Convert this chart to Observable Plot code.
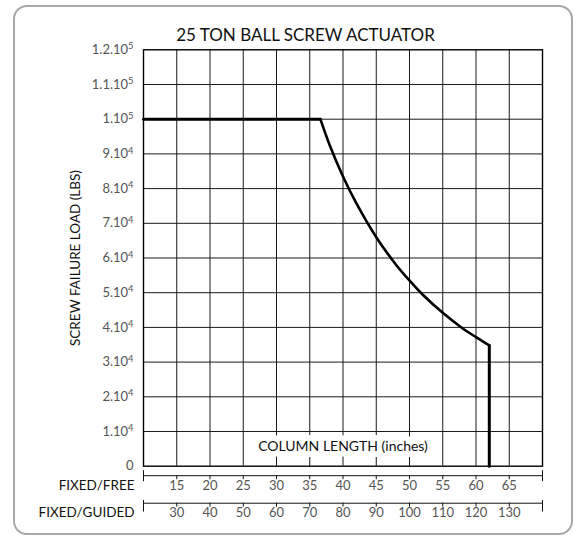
<!DOCTYPE html>
<html>
<head>
<meta charset="utf-8">
<script src="https://cdn.jsdelivr.net/npm/d3@7"></script>
<script src="https://cdn.jsdelivr.net/npm/@observablehq/plot@0.6"></script>
<style>
  html, body { margin: 0; padding: 0; background: #fff; }
  #wrap { position: relative; width: 574px; height: 535px; overflow: hidden; }
  #box { position: absolute; left: 13px; top: 5px; width: 556px; height: 526px;
         border: 2px solid #a8a8a8; border-radius: 14px; pointer-events: none; }
  svg { font-family: Lato, "Open Sans", sans-serif; }
</style>
</head>
<body>
<div id="wrap"><div id="box"></div></div>
<script>
const title = "25 TON BALL SCREW ACTUATOR";
const yLabel = "SCREW FAILURE LOAD (LBS)";
const xLabel = "COLUMN LENGTH (inches)";
const rowLabels = ["FIXED/FREE", "FIXED/GUIDED"];

const xDomain = [10, 70];
const yDomain = [0, 120000];

// x grid / FIXED/FREE column lengths and matching FIXED/GUIDED lengths
const fixedFree = [15, 20, 25, 30, 35, 40, 45, 50, 55, 60, 65];
const fixedGuided = [30, 40, 50, 60, 70, 80, 90, 100, 110, 120, 130];

const yTicks = [0, 10000, 20000, 30000, 40000, 50000, 60000, 70000, 80000, 90000, 100000, 110000, 120000];
const yTickLabels = ["0", "1.10⁴", "2.10⁴", "3.10⁴", "4.10⁴", "5.10⁴", "6.10⁴", "7.10⁴", "8.10⁴", "9.10⁴", "1.10⁵", "1.1.10⁵", "1.2.10⁵"];

// Failure load curve (FIXED/FREE length, lbs)
const flatLength = [10, 36.6];
const flatLoad = [100000, 100000];
const curveLength = [36.6, 38, 40, 42, 45, 48, 50, 52, 55, 58, 60, 62];
const curveLoad = [100000, 92500, 83500, 75800, 66000, 58000, 53500, 49400, 44200, 39700, 37200, 34800];
const dropLength = [62, 62];
const dropLoad = [34800, 0];

const toPts = (xs, ys) => xs.map((x, i) => ({x, y: ys[i]}));
const rows = fixedFree.map((f, i) => ({free: f, guided: fixedGuided[i]}));
const yRows = yTicks.map((v, i) => ({v, label: yTickLabels[i]}));

const blank = () => "";

const chart = Plot.plot({
  width: 574,
  height: 535,
  marginLeft: 143,
  marginRight: 32,
  marginTop: 49.3,
  marginBottom: 69.3,
  style: {background: "transparent", fontFamily: "Lato, 'Open Sans', sans-serif"},
  x: {domain: xDomain},
  y: {domain: yDomain, axis: null},
  marks: [
    Plot.ruleX(fixedFree, {stroke: "#1a1a1a", strokeWidth: 1}),
    Plot.ruleY(yTicks.slice(1, -1), {stroke: "#1a1a1a", strokeWidth: 1}),
    Plot.frame({stroke: "#000", strokeWidth: 1.4}),
    Plot.text([xLabel], {frameAnchor: "bottom", dy: -15.5, fontSize: 14, fill: "#111",
      stroke: "white", strokeWidth: 12, strokeLinejoin: "round", paintOrder: "stroke"}),
    Plot.line(toPts(flatLength, flatLoad), {x: "x", y: "y", stroke: "#000", strokeWidth: 3}),
    Plot.line(toPts(curveLength, curveLoad), {x: "x", y: "y", stroke: "#000", strokeWidth: 2.6, curve: "catmull-rom"}),
    Plot.line(toPts(dropLength, dropLoad), {x: "x", y: "y", stroke: "#000", strokeWidth: 3}),
    // y tick labels
    Plot.text(yRows, {y: "v", text: "label", frameAnchor: "left", textAnchor: "end", dx: -10, fontSize: 13, fill: "#555", className: "ytick"}),
    // bottom axis rows
    Plot.ruleY([0], {dy: 9.5, stroke: "#111"}),
    Plot.ruleY([0], {dy: 37, stroke: "#111"}),
    Plot.axisX({ticks: fixedFree, tickSize: 4, tickFormat: blank, dy: 9.5, stroke: "#111"}),
    Plot.axisX({ticks: fixedFree, tickSize: 4, tickFormat: blank, dy: 37, stroke: "#111"}),
    Plot.axisX({ticks: xDomain, tickSize: 11, tickFormat: blank, dy: 4.5, stroke: "#111"}),
    Plot.axisX({ticks: xDomain, tickSize: 11.5, tickFormat: blank, dy: 34.3, stroke: "#111"}),
    Plot.text(rows, {x: "free", text: d => String(d.free), frameAnchor: "bottom", dy: 23.6, fontSize: 13, fill: "#555"}),
    Plot.text(rows, {x: "free", text: d => String(d.guided), frameAnchor: "bottom", dy: 50.3, fontSize: 13, fill: "#555"}),
    Plot.text([rowLabels[0]], {frameAnchor: "bottom-left", textAnchor: "end", dx: -9, dy: 23.6, fontSize: 13.5, fill: "#111"}),
    Plot.text([rowLabels[1]], {frameAnchor: "bottom-left", textAnchor: "end", dx: -9, dy: 50.3, fontSize: 13.5, fill: "#111"}),
    // titles
    Plot.text([title], {frameAnchor: "top", textAnchor: "middle", dx: -37.5, dy: -20.5, fontSize: 17, fill: "#111"}),
    Plot.text([yLabel], {frameAnchor: "left", textAnchor: "middle", rotate: -90, dx: -68, fontSize: 13.5, fill: "#111"})
  ]
});

// render the exponent characters as raised, larger superscripts
const supMap = {"⁴": "4", "⁵": "5"};
d3.select(chart).selectAll("text").each(function() {
  const t = this.textContent;
  const m = t.match(/^(.*?)([⁴⁵]+)$/);
  if (!m) return;
  const sel = d3.select(this);
  sel.selectAll("*").remove();
  this.textContent = "";
  sel.append("tspan").text(m[1]);
  sel.append("tspan").attr("dy", "-0.48em").attr("font-size", "72%")
    .text(m[2].split("").map(c => supMap[c]).join(""));
});

chart.style.position = "absolute";
chart.style.left = "0px";
chart.style.top = "0px";
document.getElementById("wrap").appendChild(chart);
</script>
</body>
</html>
